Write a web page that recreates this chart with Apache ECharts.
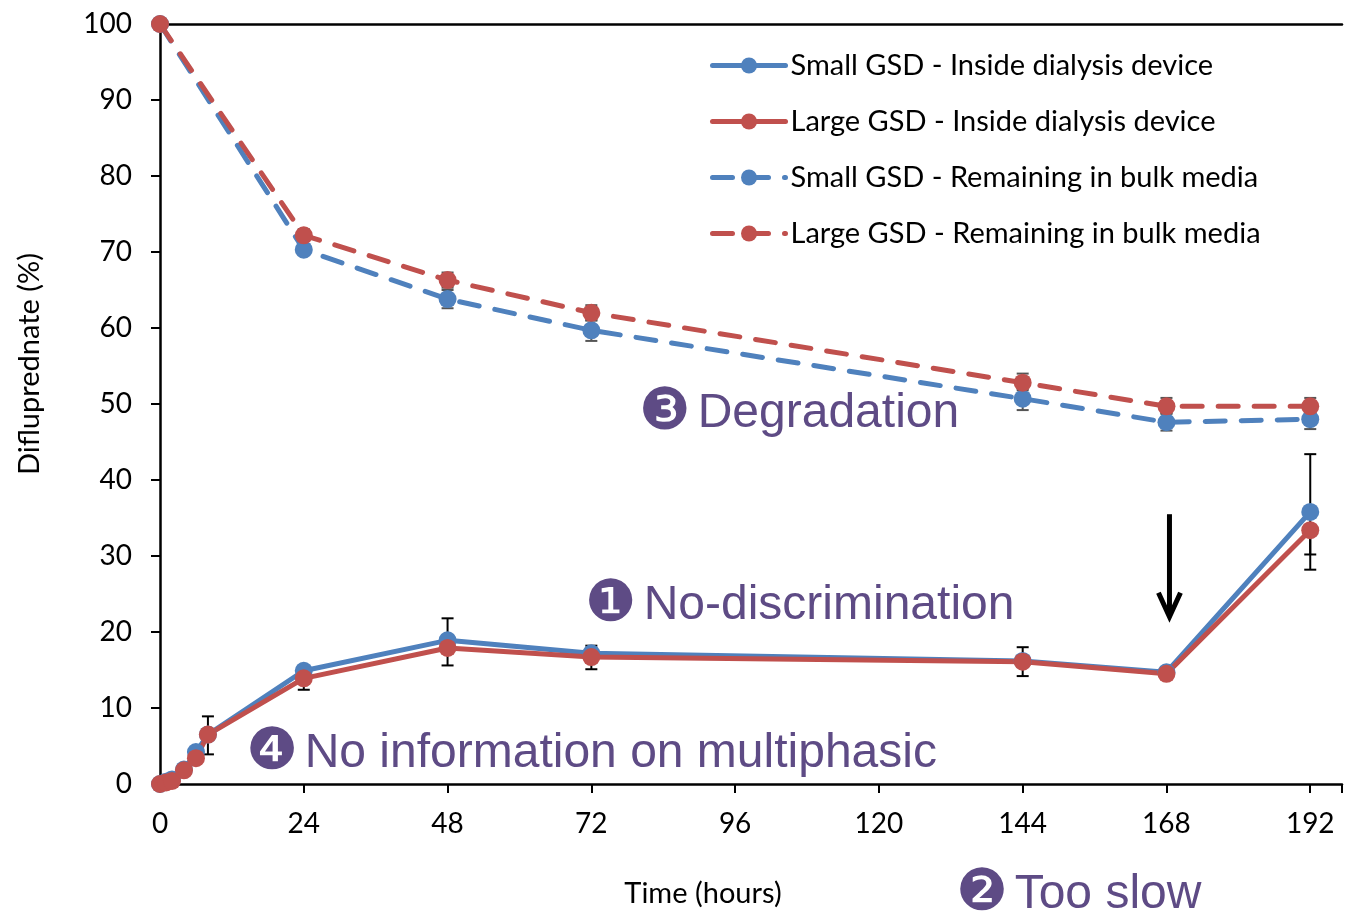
<!DOCTYPE html>
<html lang="en">
<head>
  <meta charset="UTF-8">
  <script src="https://cdn.jsdelivr.net/npm/echarts@6/dist/echarts.min.js"></script>
  <title>Difluprednate release</title>
  <style>
    html, body { margin: 0; padding: 0; background: #fff; }
    #main { width: 1345px; height: 913px; }
  </style>
</head>
<body>
  <div id="main"></div>
  <script>
    // time points (hours)
    const timeInside = [0, 1, 2, 4, 6, 8, 24, 48, 72, 144, 168, 192];
    const timeBulk = [0, 24, 48, 72, 144, 168, 192];
    const xTicks = [0, 24, 48, 72, 96, 120, 144, 168, 192];

    // % difluprednate
    const smallInside = [0, 0.3, 0.6, 1.9, 4.2, 6.5, 14.9, 18.9, 17.2, 16.2, 14.7, 35.8];
    const largeInside = [0, 0.2, 0.4, 1.8, 3.4, 6.5, 13.9, 17.9, 16.7, 16.1, 14.5, 33.4];
    const smallBulk = [100, 70.3, 63.8, 59.7, 50.7, 47.6, 48.0];
    const largeBulk = [100, 72.2, 66.3, 62.0, 52.8, 49.7, 49.7];

    // error bars: [time, low, high]
    const errInside = [
      [8, 3.9, 8.9], [24, 12.4, 14.9], [48, 15.6, 21.8], [72, 15.1, 18.2],
      [144, 14.2, 18.0], [192, 30.2, 43.4], [192, 28.2, 33.4]
    ];
    const errBulk = [
      [24, 71.8, 73.0], [48, 65.3, 67.3], [48, 62.6, 65.0], [72, 61.0, 63.0],
      [72, 58.3, 61.0], [144, 52.0, 54.0], [144, 49.2, 51.8],
      [168, 48.8, 50.8], [168, 46.5, 48.7], [192, 48.8, 50.8], [192, 46.7, 49.0]
    ];

    const blue = '#4F81BD';
    const red = '#C0504D';
    const purple = '#5E4B85';
    const font = 'Lato';

    const pairs = (xs, ys) => xs.map((x, i) => [x, ys[i]]);

    function errSeries(data, color) {
      return {
        type: 'custom',
        data: data,
        z: 1,
        silent: true,
        renderItem: function (params, api) {
          const top = api.coord([api.value(0), api.value(2)]);
          const bot = api.coord([api.value(0), api.value(1)]);
          const w = 6;
          const st = { stroke: color, lineWidth: 2 };
          return {
            type: 'group',
            children: [
              { type: 'line', shape: { x1: top[0], y1: top[1], x2: bot[0], y2: bot[1] }, style: st },
              { type: 'line', shape: { x1: top[0] - w, y1: top[1], x2: top[0] + w, y2: top[1] }, style: st },
              { type: 'line', shape: { x1: bot[0] - w, y1: bot[1], x2: bot[0] + w, y2: bot[1] }, style: st }
            ]
          };
        }
      };
    }

    function lineSeries(name, data, color, dashed) {
      return {
        name: name,
        type: 'line',
        data: data,
        symbol: 'circle',
        symbolSize: 18,
        z: 3,
        itemStyle: { color: color },
        lineStyle: {
          color: color,
          width: 5,
          type: dashed ? [20, 16] : 'solid',
          cap: 'round'
        }
      };
    }

    const chart = echarts.init(document.getElementById('main'));

    chart.setOption({
      animation: false,
      backgroundColor: '#fff',
      grid: { left: 160, right: 0, top: 24, bottom: 128 },
      legend: {
        orient: 'vertical',
        left: 705,
        top: 46,
        itemWidth: 73,
        itemHeight: 20,
        itemGap: 27,
        lineStyle: { width: 5 },
        textStyle: { fontFamily: font, fontSize: 29, color: '#000' },
        data: [
          'Small GSD - Inside dialysis device',
          'Large GSD - Inside dialysis device',
          'Small GSD - Remaining in bulk media',
          'Large GSD - Remaining in bulk media'
        ]
      },
      xAxis: [{
        type: 'value',
        min: 0,
        max: 197.3,
        interval: 24,
        name: 'Time (hours)',
        nameLocation: 'middle',
        nameGap: 95,
        nameTextStyle: { fontFamily: font, fontSize: 29, color: '#000', padding: [0, 96, 0, 0] },
        axisLine: { lineStyle: { color: '#000', width: 2.5 } },
        axisTick: { length: 9, lineStyle: { color: '#000', width: 2 } },
        axisLabel: {
          fontFamily: font, fontSize: 28, color: '#000', margin: 26,
          formatter: v => (xTicks.indexOf(v) >= 0 ? String(v) : '')
        },
        splitLine: { show: false }
      }, {
        type: 'value',
        position: 'top',
        min: 0,
        max: 197.3,
        axisLine: { show: true, lineStyle: { color: '#000', width: 2.5 } },
        axisTick: { show: false },
        axisLabel: { show: false },
        splitLine: { show: false }
      }],
      yAxis: {
        type: 'value',
        min: 0,
        max: 100,
        interval: 10,
        name: 'Difluprednate (%)',
        nameLocation: 'middle',
        nameGap: 116,
        nameTextStyle: { fontFamily: font, fontSize: 29, color: '#000', padding: [0, 0, 0, 80] },
        axisLine: { show: true, lineStyle: { color: '#000', width: 2.5 } },
        axisTick: { show: true, length: 9, lineStyle: { color: '#000', width: 2 } },
        axisLabel: { fontFamily: font, fontSize: 28, color: '#000', margin: 28 },
        splitLine: { show: false }
      },
      series: [
        errSeries(errInside, '#000'),
        errSeries(errBulk, '#555'),
        lineSeries('Small GSD - Inside dialysis device', pairs(timeInside, smallInside), blue, false),
        lineSeries('Large GSD - Inside dialysis device', pairs(timeInside, largeInside), red, false),
        lineSeries('Small GSD - Remaining in bulk media', pairs(timeBulk, smallBulk), blue, true),
        lineSeries('Large GSD - Remaining in bulk media', pairs(timeBulk, largeBulk), red, true)
      ]
    });

    // annotations: circled number + label, vertically centred on y
    function note(num, text, x, y) {
      return {
        type: 'text', x: x, y: y, z: 10,
        style: {
          text: '{n|' + num + '}  {t|' + text + '}',
          verticalAlign: 'middle',
          fill: purple,
          rich: {
            n: { fontFamily: 'DejaVu Sans', fontSize: 58, fill: purple },
            t: { fontFamily: 'Liberation Sans', fontSize: 48, fill: purple }
          }
        }
      };
    }
    const a1 = chart.convertToPixel({ xAxisIndex: 0, yAxisIndex: 0 }, [168, 35.5]);
    const a2 = chart.convertToPixel({ xAxisIndex: 0, yAxisIndex: 0 }, [168, 22]);
    chart.setOption({
      graphic: [
        note('❶', 'No-discrimination', 585, 606),
        note('❷', 'Too slow', 956, 895),
        note('❸', 'Degradation', 639, 414),
        note('❹', 'No information on multiphasic', 246, 754),
        {
          type: 'group', z: 10,
          children: [
            { type: 'line', shape: { x1: a1[0] + 3, y1: a1[1], x2: a1[0] + 3, y2: a2[1] - 2 }, style: { stroke: '#000', lineWidth: 5 } },
            { type: 'polyline', shape: { points: [[a2[0] - 8, a2[1] - 24], [a2[0] + 3, a2[1]], [a2[0] + 14, a2[1] - 24]] }, style: { stroke: '#000', lineWidth: 5, fill: null } }
          ]
        }
      ]
    });
  </script>
</body>
</html>
